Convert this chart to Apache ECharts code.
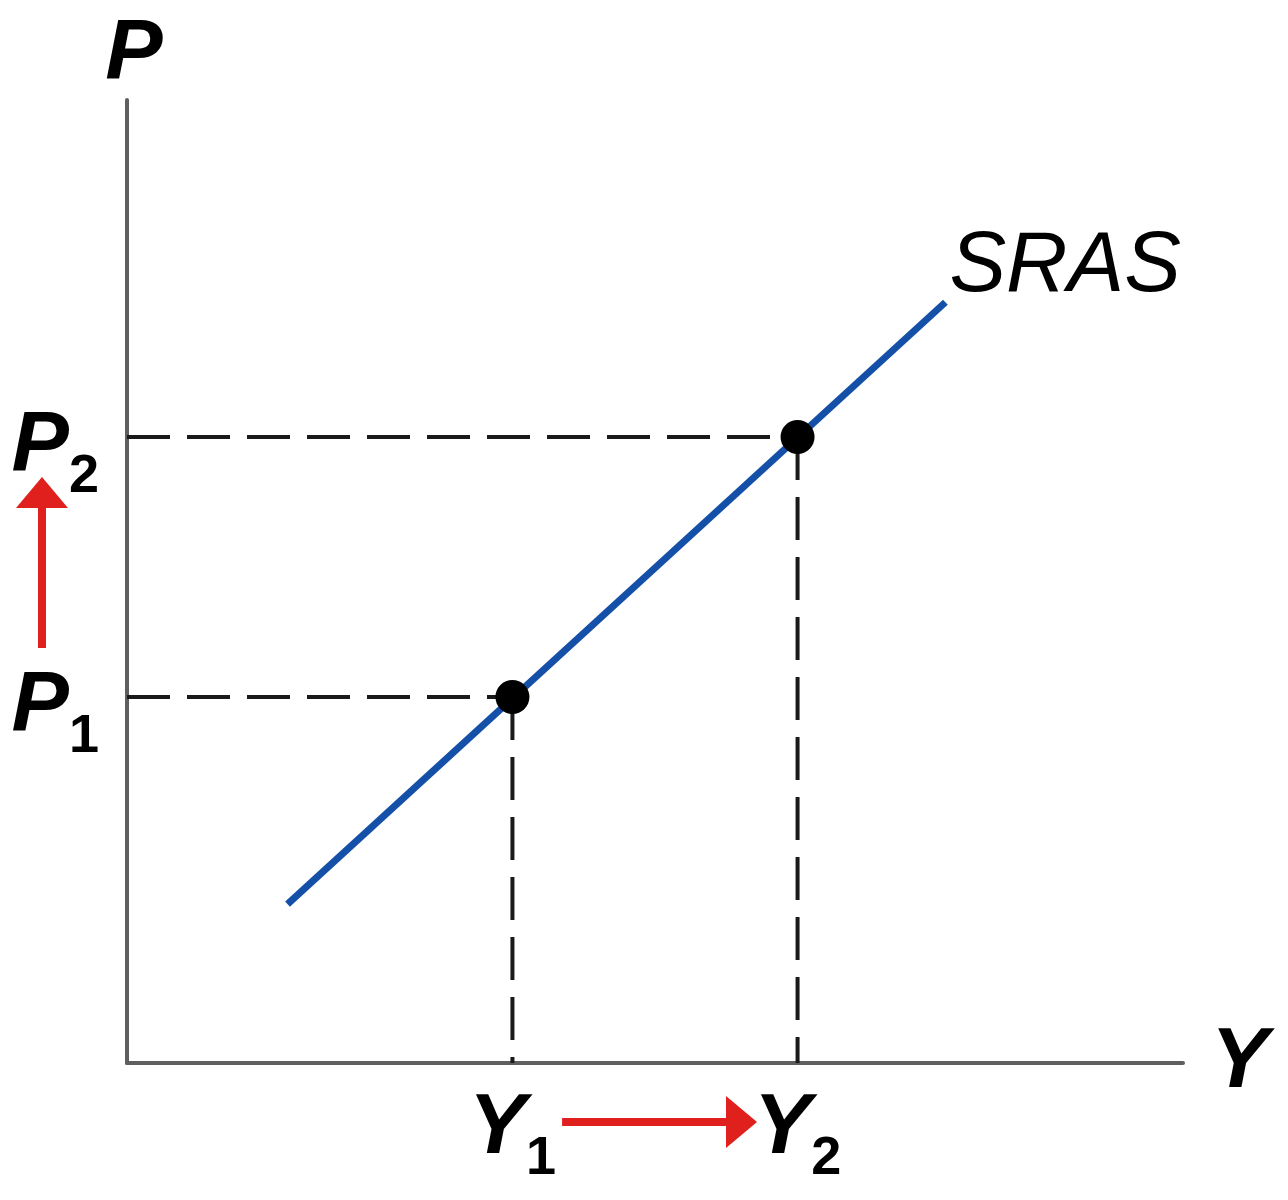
<!DOCTYPE html>
<html>
<head>
<meta charset="utf-8">
<script src="https://cdn.jsdelivr.net/npm/echarts@6/dist/echarts.min.js"></script>
<style>
  html, body { margin: 0; padding: 0; background: #fff; }
  #main { width: 1288px; height: 1200px; }
</style>
</head>
<body>
<div id="main"></div>
<script>
// axis units: output Y runs 0..100 along x, price level P runs 0..100 along y
const yLevels = [36.5, 63.5];          // Y1, Y2
const pLevels = [38, 65];              // P1, P2
const subs = ['1', '2'];
const srasLine = [[15.2, 16.5], [77.5, 79]];
// red shift arrows: [from x, from y, tip x, tip y]
const shifts = [
    [41.2, -6.13, 59.66, -6.13],   // Y1 -> Y2
    [-8.05, 43.1, -8.05, 60.85]    // P1 -> P2
];

const FONT = 'Liberation Sans, Arial, sans-serif';
const RED = '#E0201C';
const BLUE = '#1550A8';

const chart = echarts.init(document.getElementById('main'));

const rich = {
    m: { fontSize: 86, fontWeight: 'bold', fontStyle: 'italic', fontFamily: FONT, color: '#000', lineHeight: 86, verticalAlign: 'top' },
    s: { fontSize: 54, fontWeight: 'bold', fontFamily: FONT, color: '#000', lineHeight: 54, padding: [46, 0, 0, 0], verticalAlign: 'top' }
};

const guides = [];
yLevels.forEach((y, i) => {
    const p = pLevels[i];
    guides.push([[0, p], [y, p]]);
    guides.push([[y, p], [y, 0]]);
});

chart.setOption({
    animation: false,
    backgroundColor: '#fff',
    grid: { left: 127, right: 105, top: 100, bottom: 137, containLabel: false, outerBoundsMode: 'none' },
    xAxis: {
        type: 'value', min: 0, max: 100,
        axisLine: { show: true, lineStyle: { color: '#5f5f5f', width: 4 } },
        axisTick: { show: false }, axisLabel: { show: false }, splitLine: { show: false },
        name: 'Y', nameLocation: 'end', nameGap: 28,
        nameTextStyle: { fontSize: 86, fontWeight: 'bold', fontStyle: 'italic', fontFamily: FONT, color: '#000', verticalAlign: 'middle' }
    },
    yAxis: {
        type: 'value', min: 0, max: 100,
        axisLine: { show: true, lineStyle: { color: '#5f5f5f', width: 4 } },
        axisTick: { show: false }, axisLabel: { show: false }, splitLine: { show: false },
        name: 'P', nameLocation: 'end', nameGap: 2,
        nameTextStyle: { fontSize: 86, fontWeight: 'bold', fontStyle: 'italic', fontFamily: FONT, color: '#000', padding: [0, 0, 0, 14] }
    },
    series: [
        // dashed guides
        ...guides.map(d => ({
            type: 'line', data: d, showSymbol: false, silent: true, z: 2,
            lineStyle: { color: '#1a1a1a', width: 4, type: [43, 17] }
        })),
        // SRAS curve
        {
            type: 'line', data: srasLine, showSymbol: false, z: 3,
            lineStyle: { color: BLUE, width: 7 },
            endLabel: {
                show: true, formatter: 'SRAS', distance: 4, offset: [0, -35],
                fontSize: 85, fontStyle: 'italic', fontFamily: FONT, color: '#000'
            }
        },
        // equilibrium points
        {
            type: 'scatter', data: yLevels.map((y, i) => [y, pLevels[i]]), z: 5,
            symbolSize: 34, itemStyle: { color: '#000', opacity: 1 }
        },
        // Y1, Y2 labels
        {
            type: 'scatter', data: yLevels.map(y => [y, 0]), symbolSize: 0, clip: false, z: 6,
            itemStyle: { opacity: 1 },
            label: {
                show: true, position: 'bottom', distance: 23, color: '#000', opacity: 1,
                formatter: p => '{m|Y}{s|' + subs[p.dataIndex] + '}', rich: rich
            }
        },
        // P1, P2 labels
        {
            type: 'scatter', data: pLevels.map(p => [0, p]), symbolSize: 0, clip: false, z: 6,
            itemStyle: { opacity: 1 },
            label: {
                show: true, position: 'left', distance: 28, offset: [0, 10], color: '#000', opacity: 1,
                formatter: p => '{m|P}{s|' + subs[p.dataIndex] + '}', rich: rich
            }
        },
        // red shift arrows
        {
            type: 'custom', coordinateSystem: 'cartesian2d', clip: false, z: 4,
            data: shifts,
            renderItem: (params, api) => {
                const a = api.coord([api.value(0), api.value(1)]);
                const b = api.coord([api.value(2), api.value(3)]);
                const dx = b[0] - a[0], dy = b[1] - a[1];
                const len = Math.hypot(dx, dy);
                const ux = dx / len, uy = dy / len;
                const headLen = 31, headHalf = 26;
                const bx = b[0] - ux * headLen, by = b[1] - uy * headLen;
                return {
                    type: 'group',
                    children: [
                        {
                            type: 'line',
                            shape: { x1: a[0], y1: a[1], x2: bx + ux * 2, y2: by + uy * 2 },
                            style: { stroke: RED, lineWidth: 8 }
                        },
                        {
                            type: 'polygon',
                            shape: { points: [b, [bx - uy * headHalf, by + ux * headHalf], [bx + uy * headHalf, by - ux * headHalf]] },
                            style: { fill: RED }
                        }
                    ]
                };
            }
        }
    ]
});

window.addEventListener('resize', () => chart.resize());
</script>
</body>
</html>
